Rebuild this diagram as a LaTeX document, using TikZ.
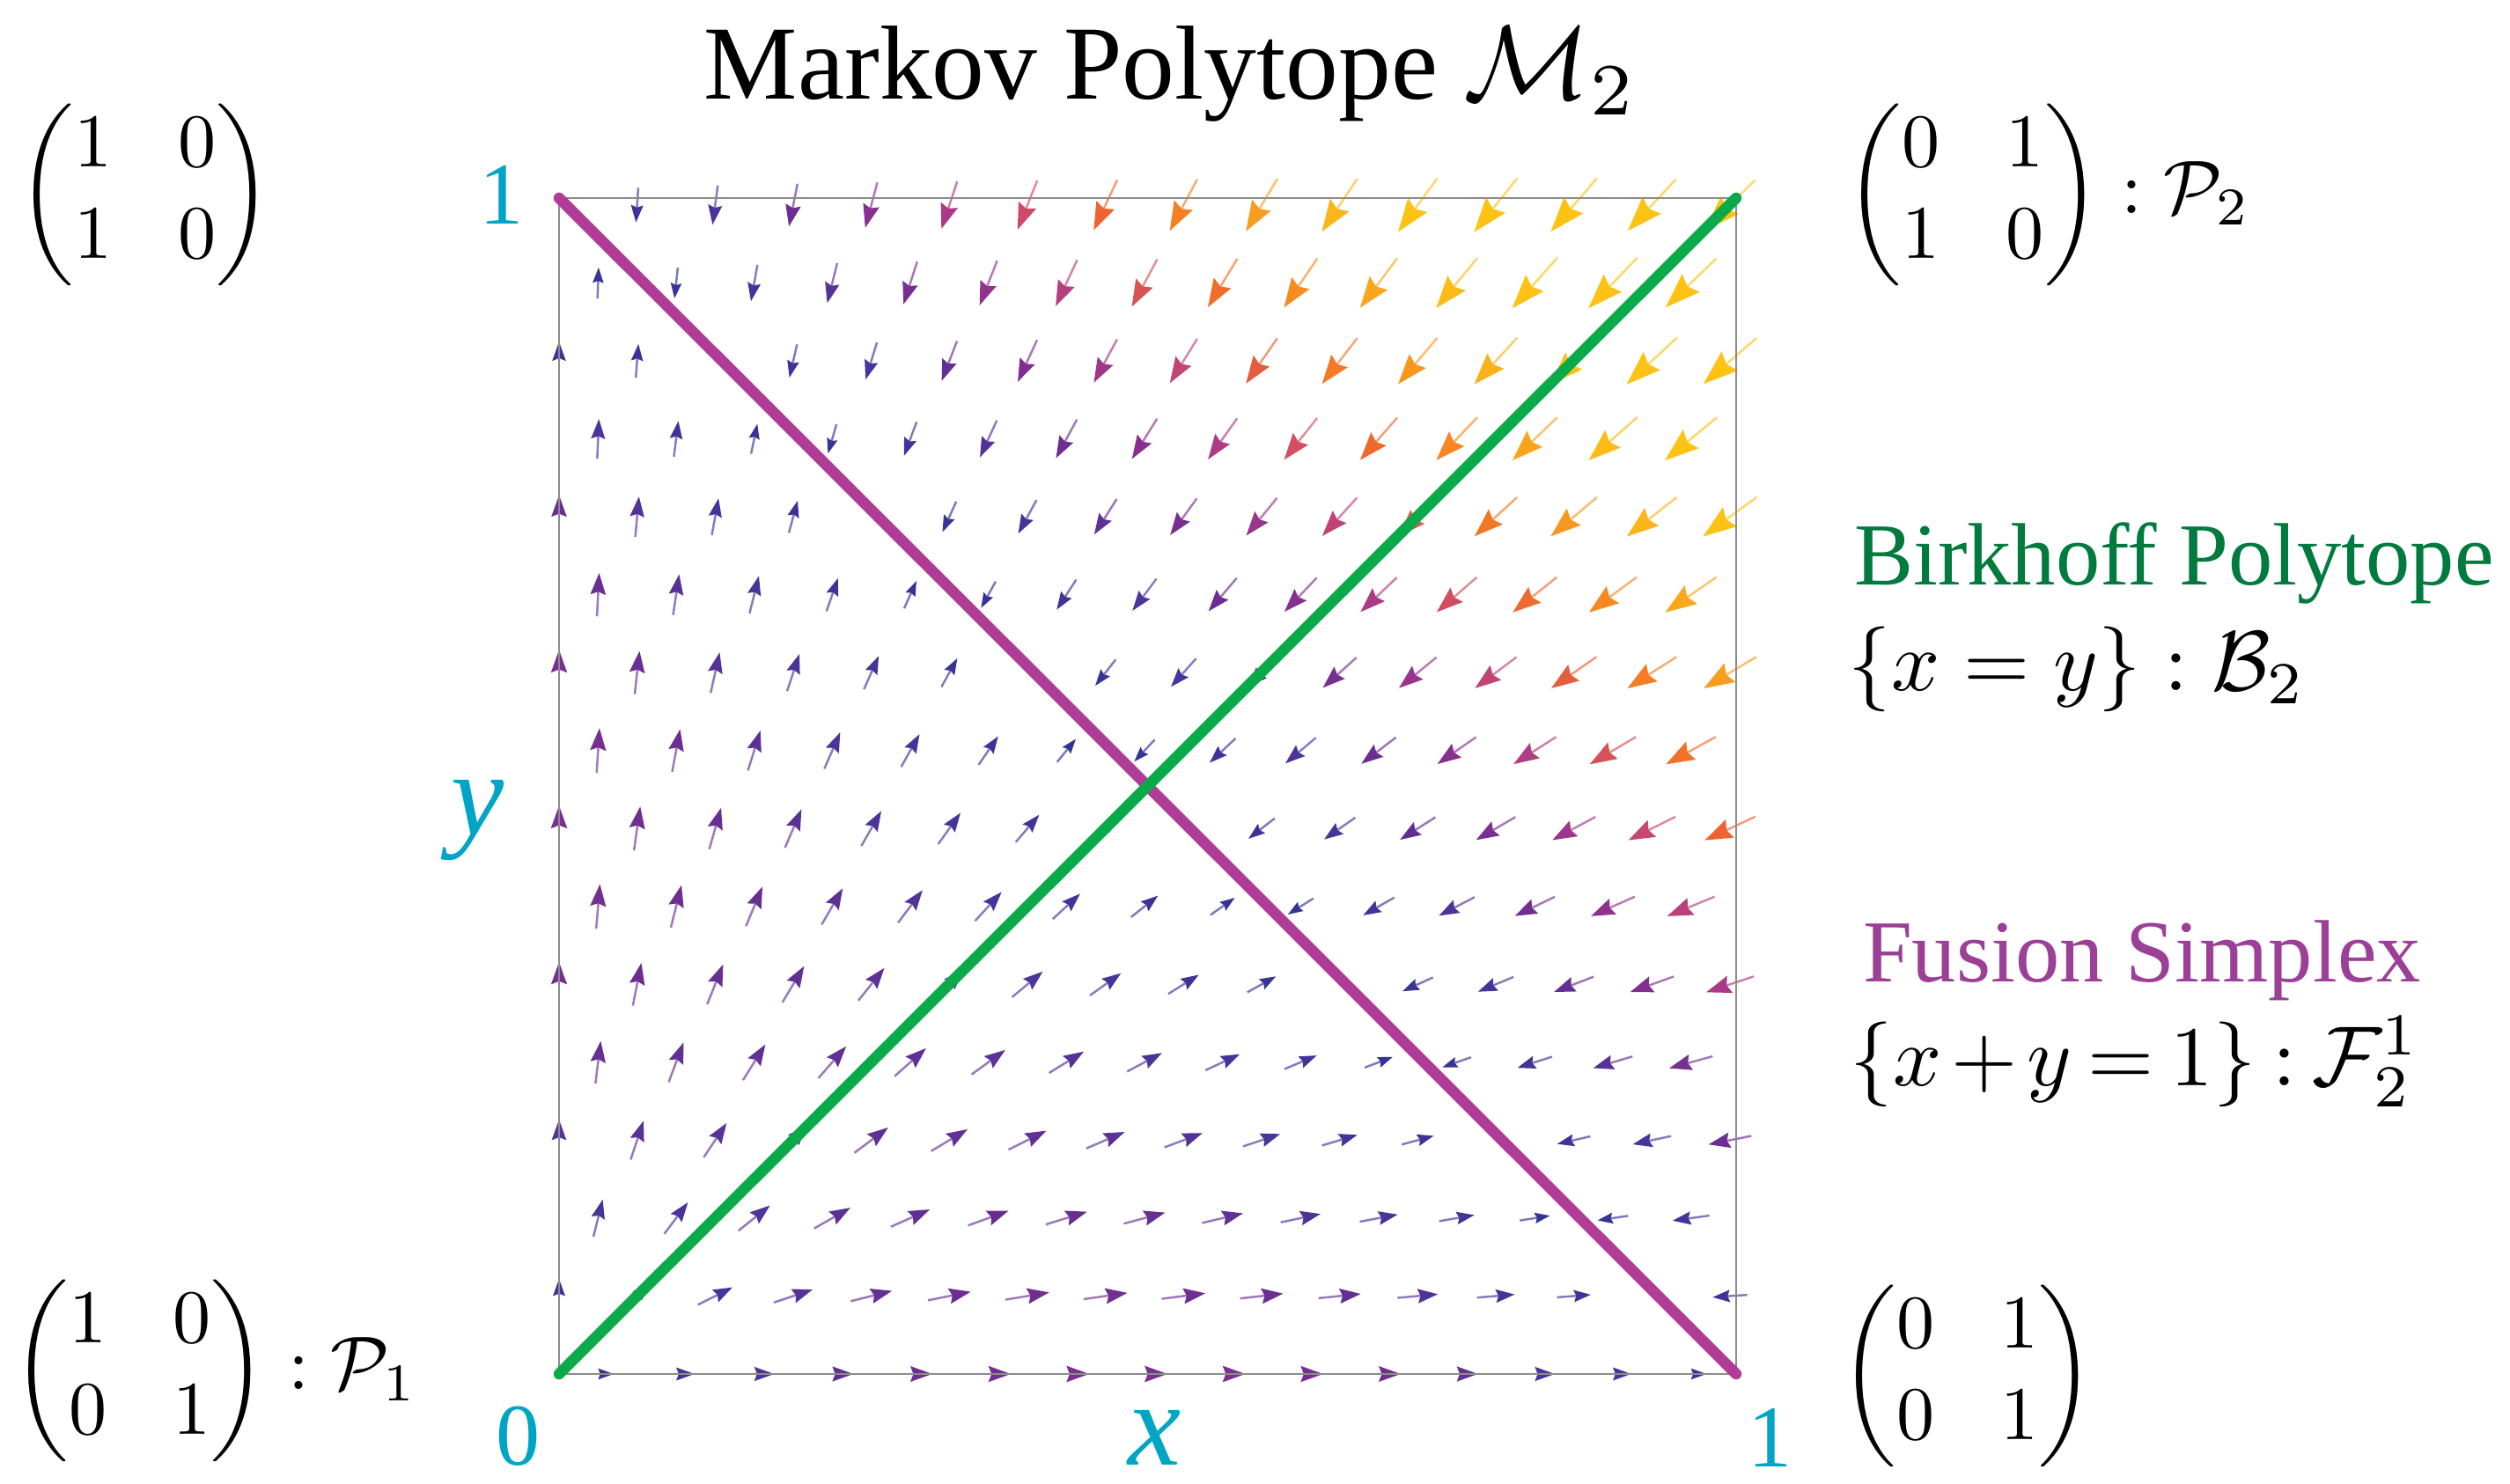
\documentclass[tikz,border=0pt]{standalone}
\usepackage{amsmath}
\usepackage{fontspec}
\setmainfont{Liberation Serif}
\definecolor{teal}{RGB}{0,165,198}
\definecolor{bgreen}{RGB}{0,122,61}
\definecolor{fpurple}{RGB}{155,64,150}
\definecolor{lmag}{RGB}{176,60,150}
\definecolor{lgreen}{RGB}{10,170,75}
\definecolor{framegray}{RGB}{140,140,140}
\definecolor{cA}{RGB}{50,50,150}
\definecolor{cB}{RGB}{62,52,152}
\definecolor{cC}{RGB}{75,52,154}
\definecolor{cD}{RGB}{107,46,146}
\definecolor{cE}{RGB}{135,48,143}
\definecolor{cF}{RGB}{170,57,136}
\definecolor{cG}{RGB}{205,74,104}
\definecolor{cH}{RGB}{238,100,48}
\definecolor{cI}{RGB}{245,127,34}
\definecolor{cJ}{RGB}{248,157,30}
\definecolor{cK}{RGB}{251,182,25}
\definecolor{cL}{RGB}{254,194,20}
\newcommand\mixseg[4]{%
  \pgfmathtruncatemacro\pp{round(max(0,min(100,100*(\mm-#1)/(#2-#1))))}%
  \colorlet{arrcol}{#4!\pp!#3}}
\newcommand\pickcolor{%
  \ifdim\mm pt<0.07pt \mixseg{0}{0.07}{cA}{cB}\else
  \ifdim\mm pt<0.135pt \mixseg{0.07}{0.135}{cB}{cC}\else
  \ifdim\mm pt<0.2pt \mixseg{0.135}{0.2}{cC}{cD}\else
  \ifdim\mm pt<0.28pt \mixseg{0.2}{0.28}{cD}{cE}\else
  \ifdim\mm pt<0.35pt \mixseg{0.28}{0.35}{cE}{cF}\else
  \ifdim\mm pt<0.43pt \mixseg{0.35}{0.43}{cF}{cG}\else
  \ifdim\mm pt<0.515pt \mixseg{0.43}{0.515}{cG}{cH}\else
  \ifdim\mm pt<0.6pt \mixseg{0.515}{0.6}{cH}{cI}\else
  \ifdim\mm pt<0.7pt \mixseg{0.6}{0.7}{cI}{cJ}\else
  \ifdim\mm pt<0.8pt \mixseg{0.7}{0.8}{cJ}{cK}\else
  \ifdim\mm pt<0.9pt \mixseg{0.8}{0.9}{cK}{cL}\else
  \colorlet{arrcol}{cL}%
  \fi\fi\fi\fi\fi\fi\fi\fi\fi\fi\fi}
\tikzset{
  axlab/.style={text=teal,inner sep=0pt,font=\fontsize{28.5}{34}\selectfont},
  axvar/.style={text=teal,inner sep=0pt,anchor=base,font=\fontsize{38.5}{44}\selectfont\itshape},
  matnode/.style={inner sep=0pt,scale=2.45},
  lbl/.style={inner sep=0pt,anchor=base west,scale=2.86},
  mlbl/.style={inner sep=0pt,anchor=base west,scale=2.75},
  thickline/.style={line width=0.125cm,line cap=round},
}
\newcommand\mymat[1]{{\arraycolsep=4.4pt\begin{pmatrix}#1\end{pmatrix}}}
\begin{document}
\begin{tikzpicture}
\useasboundingbox (0,0) rectangle (28.51,16.86);
% vector field
\foreach \j in {0,...,15}{
  \pgfmathtruncatemacro\oddrow{mod(\j,2)}
  \pgfmathtruncatemacro\imax{14+\oddrow}
  \foreach \i in {0,...,\imax}{
    \pgfmathsetmacro\xx{(\i+0.5*(1-\oddrow))/15}
    \pgfmathsetmacro\yy{\j/15}
    \pgfmathsetmacro\ss{1-\xx-\yy}
    \pgfmathsetmacro\fx{\ss*\xx}
    \pgfmathsetmacro\fy{\ss*\yy}
    \pgfmathsetmacro\mm{sqrt(\fx*\fx+\fy*\fy)}
    \ifdim\mm pt>0.003pt
      \pgfmathsetmacro\ang{atan2(\fy,\fx)}
      \pgfmathsetmacro\LL{min(0.26+0.52*sqrt(\mm),0.80)}
      \pickcolor
      \begin{scope}[shift={({6.35+13.30*\xx},{1.25+13.28*\yy})},rotate=\ang]
        \draw[arrcol,opacity=0.65,line width=0.7pt] ({-\LL/2},0) -- ({0.07*\LL},0);
        \fill[arrcol] ({\LL/2},0) -- ({0.0*\LL},{0.18*\LL}) -- ({0.07*\LL},0) -- ({0.0*\LL},{-0.18*\LL}) -- cycle;
      \end{scope}
    \fi
  }
}
% frame
\draw[framegray,line width=0.025cm] (6.35,1.25) rectangle (19.72,14.61);
\coordinate (p00) at (6.35,1.25);
\coordinate (p10) at (19.72,1.25);
\coordinate (p01) at (6.35,14.61);
\coordinate (p11) at (19.72,14.61);
\draw[lmag,thickline] (p01) -- (p10);
\draw[lgreen,thickline] (p00) -- (p11);
% title
\node[anchor=base,inner sep=0pt,scale=3.4] (title) at (13.30,15.73) {Markov Polytope $\mathcal{M}_2$};
% matrices
\node[matnode] (mTL) at (1.65,14.65) {$\mymat{1&0\\1&0}$};
\node[matnode,anchor=west] (mTR) at (20.95,14.65) {$\mymat{0&1\\1&0}:\mathcal{P}_2$};
\node[matnode,anchor=west] (mBL) at (0.13,1.29) {$\mymat{1&0\\0&1}:\mathcal{P}_1$};
\node[matnode] (mBR) at (22.35,1.23) {$\mymat{0&1\\0&1}$};
% axis labels
\node[axlab] (ytop) at (5.70,14.65) {1};
\node[axlab] (orig) at (5.89,0.54) {0};
\node[axlab] (xright) at (20.11,0.53) {1};
\node[axvar] (ylab) at (5.43,7.37) {y};
\node[axvar] (xlab) at (13.12,0.21) {x};
% right labels
\node[lbl,text=bgreen] (birk) at (21.04,10.21) {Birkhoff Polytope};
\node[mlbl] (birkmath) at (20.98,9.01) {$\{x=y\}:\mathcal{B}_2$};
\node[lbl,text=fpurple] (fus) at (21.14,5.70) {Fusion Simplex};
\node[mlbl] (fusmath) at (21.00,4.52) {\thickmuskip=3.5mu\medmuskip=2mu$\{x+y=1\}:\mathcal{F}_2^1$};
\end{tikzpicture}
\end{document}
